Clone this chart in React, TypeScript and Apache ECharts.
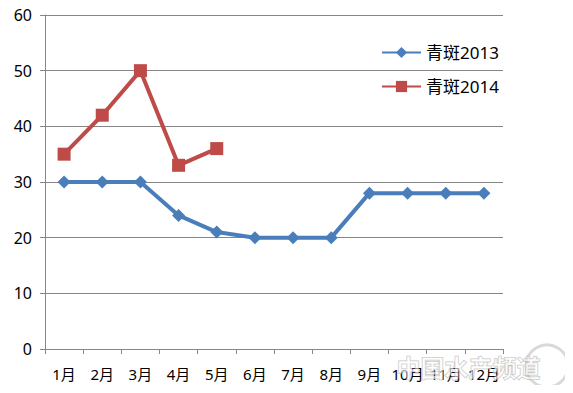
import React, { useEffect, useRef } from "react";
import * as echarts from "echarts";

const categories = ["1月", "2月", "3月", "4月", "5月", "6月", "7月", "8月", "9月", "10月", "11月", "12月"];
const series2013 = [30, 30, 30, 24, 21, 20, 20, 20, 28, 28, 28, 28];
const series2014 = [35, 42, 50, 33, 36];
const yTicks = { min: 0, max: 60, interval: 10 };

export default function App() {
  const ref = useRef<HTMLDivElement>(null);
  useEffect(() => {
    const chart = echarts.init(ref.current!, null, { renderer: "svg" });
    const font = "'Noto Sans', 'Noto Sans CJK SC', sans-serif";
    chart.setOption({
      animation: false,
      backgroundColor: "#ffffff",
      grid: { left: 45, top: 15, width: 458, height: 334, containLabel: false },
      legend: {
        orient: "vertical",
        left: 376,
        top: 39,
        itemGap: 17,
        itemWidth: 39,
        itemHeight: 14,
        textStyle: { fontFamily: font, fontSize: 17, color: "#000" },
        data: ["青斑2013", "青斑2014"],
      },
      xAxis: {
        type: "category",
        data: categories,
        boundaryGap: true,
        axisLine: { lineStyle: { color: "#868686", width: 1 } },
        axisTick: { show: true, length: 5, lineStyle: { color: "#868686" } },
        axisLabel: { fontFamily: font, fontSize: 15, color: "#000", margin: 17, interval: 0 },
        splitLine: { show: false },
      },
      yAxis: {
        type: "value",
        min: yTicks.min,
        max: yTicks.max,
        interval: yTicks.interval,
        axisLine: { show: true, lineStyle: { color: "#868686", width: 1 } },
        axisTick: { show: true, length: 5, lineStyle: { color: "#868686" } },
        axisLabel: { fontFamily: font, fontSize: 16, color: "#000", margin: 13 },
        splitLine: { show: true, lineStyle: { color: "#868686", width: 1 } },
      },
      series: [
        {
          name: "青斑2013",
          type: "line",
          data: series2013,
          symbol: "diamond",
          symbolSize: 13,
          lineStyle: { color: "#4A7EBB", width: 4 },
          itemStyle: { color: "#4A7EBB" },
        },
        {
          name: "青斑2014",
          type: "line",
          data: series2014,
          symbol: "rect",
          symbolSize: 13,
          lineStyle: { color: "#BE4B48", width: 4 },
          itemStyle: { color: "#BE4B48" },
        },
      ],
      graphic: [
        {
          type: "text",
          left: 396,
          top: 354,
          z: 100,
          style: {
            text: "中国水产频道",
            fontFamily: "'Noto Sans CJK SC', sans-serif",
            fontSize: 24,
            fontWeight: "bold",
            fill: "rgba(255,255,255,0.6)",
            stroke: "rgba(150,150,150,0.6)",
            lineWidth: 1,
          },
        },
        {
          type: "circle",
          z: 99,
          shape: { cx: 547, cy: 366, r: 21 },
          style: { fill: "none", stroke: "rgba(180,180,180,0.5)", lineWidth: 3 },
        },
      ],
    });
    return () => chart.dispose();
  }, []);
  return <div ref={ref} style={{ width: 573, height: 393, margin: -8 }} />;
}
